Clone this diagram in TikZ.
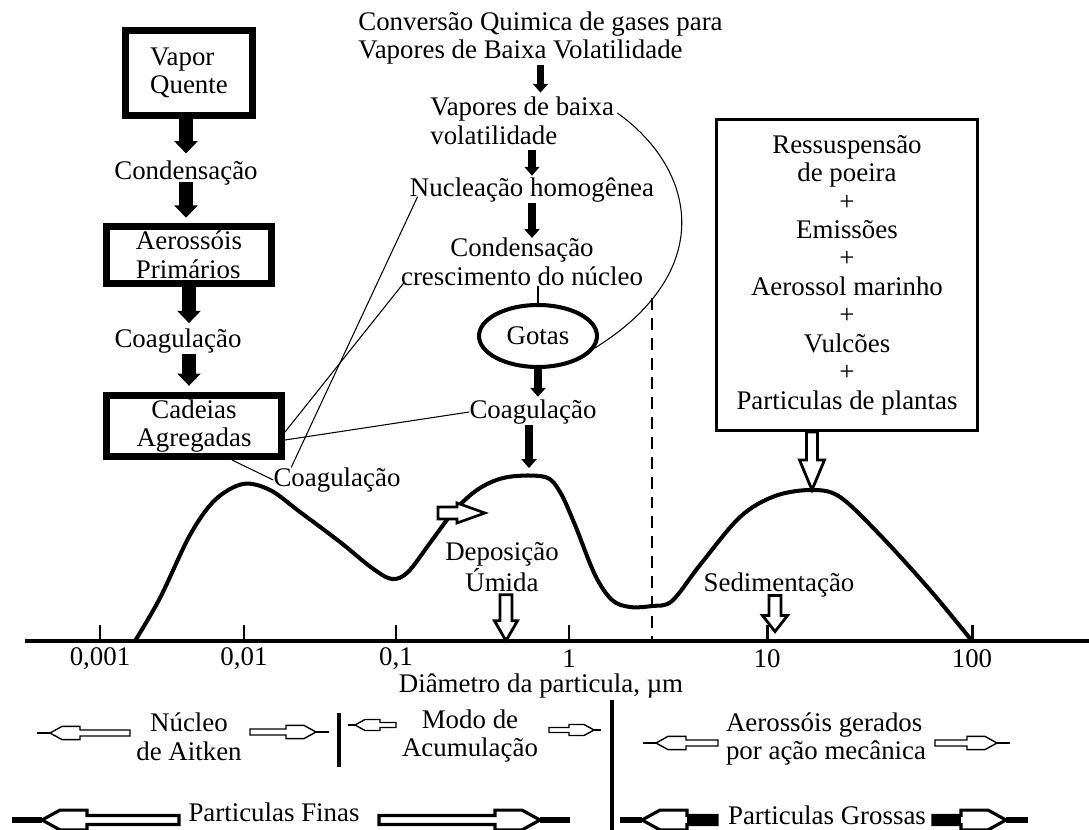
\documentclass[tikz,border=0pt]{standalone}
\usepackage{fontspec}
\setmainfont{Liberation Serif}
\usetikzlibrary{arrows.meta,calc,shapes.geometric}

% horizontal block arrow: line width, tail x, tip x, y, shaft half height, stub length, shaft fill
\newcommand{\flecha}[7]{%
  \pgfmathsetmacro{\flD}{ifthenelse(#3>#2,1,-1)}%
  \pgfmathsetmacro{\flA}{#3-\flD*#6}%
  \pgfmathsetmacro{\flB}{\flA-\flD*4*#5}%
  \pgfmathsetmacro{\flC}{\flA-\flD*10*#5}%
  \draw[line width=1.8*#1] (\flA,#4) -- (#3,#4);
  \fill[white] (#2,#4-#5) -- (\flC,#4-#5) -- (\flC,#4-2.2*#5) -- (\flB,#4-2.2*#5) -- (\flA,#4)
    -- (\flB,#4+2.2*#5) -- (\flC,#4+2.2*#5) -- (\flC,#4+#5) -- (#2,#4+#5) -- cycle;
  \fill[#7] (#2,#4-#5) rectangle (\flC,#4+#5);
  \draw[line width=#1, line join=miter] (#2,#4-#5) -- (\flC,#4-#5) -- (\flC,#4-2.2*#5) -- (\flB,#4-2.2*#5) -- (\flA,#4)
    -- (\flB,#4+2.2*#5) -- (\flC,#4+2.2*#5) -- (\flC,#4+#5) -- (#2,#4+#5) -- cycle;
}

\begin{document}
\begin{tikzpicture}[x=0.02cm, y=-0.02cm,
    every node/.style={font=\fontsize{15.3}{16.2}\selectfont, inner sep=0pt},
    thickbox/.style={draw, line width=4pt},
    fatarr/.style={line width=7.5pt, -{Triangle[width=13pt,length=7pt]}},
    midarr/.style={line width=4.5pt, -{Triangle[width=8.5pt,length=5pt]}},
    leader/.style={line width=0.6pt},
    curve/.style={line width=2.3pt, line join=round},
    hollow/.style={draw, line width=1.6pt, fill=white, line join=miter},
    pics/dnarrow/.style n args={4}{code={
      \path[hollow] (-#2,0) -- (-#2,#1-#4) -- (-#3,#1-#4) -- (0,#1) -- (#3,#1-#4) -- (#2,#1-#4) -- (#2,0) -- cycle;
    }}
]
\useasboundingbox (0,0) rectangle (1089,830);

% left column
\node[thickbox, minimum width=2.54cm, minimum height=1.7cm, align=left] (vapor) at (189,73) {Vapor\\Quente};
\node (cond1) at (186,173) {Condensação};
\node[thickbox, minimum width=3.3cm, minimum height=1.14cm, align=left] (aero) at (189,255) {Aerossóis\\Primários};
\node (coag1) at (178,341) {Coagulação};
\node[thickbox, minimum width=3.5cm, minimum height=1.22cm, align=center] (cadeias) at (194,426) {Cadeias\\Agregadas};

\draw[fatarr, shorten >=4pt] (vapor.south -| cond1) -- (cond1.north);
\draw[fatarr, shorten <=-2pt, shorten >=3pt] (cond1.south) -- (cond1.south |- aero.north);
\draw[fatarr, shorten >=3pt] (aero.south) -- (aero.south |- coag1.north);
\draw[fatarr, shorten >=3.5pt] (coag1.south -| aero) -- (cadeias.north -| aero);

% middle column
\node[anchor=west, align=left] (conv) at (358,38) {Conversão Quimica de gases para\\Vapores de Baixa Volatilidade};
\node[anchor=west, align=left] (vap) at (430,121) {Vapores de baixa\\volatilidade};
\node (nuc) at (532,190) {Nucleação homogênea};
\node[align=center] (cond2) at (522,262) {Condensação\\crescimento do núcleo};
\node[ellipse, draw, line width=2.3pt, minimum width=2.36cm, minimum height=1.24cm] (gotas) at (538,336) {Gotas};
\node (coag2) at (533,412) {Coagulação};
\node (coag3) at (337,480) {Coagulação};
\coordinate (peakB) at (529,468);

\draw[midarr, shorten >=2.5pt] (conv.south) -- (conv.south |- vap.north);
\draw[midarr, shorten <=3pt, shorten >=1pt] (vap.south -| nuc) -- (nuc.north);
\draw[midarr] (nuc.south) -- (nuc.south |- cond2.north);
\draw[line width=1.7pt] (cond2.south -| gotas) -- (gotas.north);
\draw[midarr, shorten >=1.5pt] (gotas.south) -- (gotas.south |- coag2.north);
\draw[midarr] (coag2.south -| peakB) -- (peakB);

% leader lines
\draw[leader] ($(nuc.south west)+(8,-6)$) -- ($(coag3.north west)+(18,0)$);
\draw[leader] ($(cond2.south west)+(3,-3)$) -- ($(cadeias.east)+(0,6)$);
\draw[leader] ($(cadeias.east)+(0,14)$) -- (coag2.west);
\draw[leader] ($(cadeias.south)+(38,0)$) -- (coag3.west);
\draw[leader] ($(vap.north east)+(3,16)$) .. controls (697,170) and (717,272) .. (gotas.-12);

% right box
\node[draw, line width=1.7pt, minimum width=5.24cm, minimum height=6.22cm, align=center] (fontes) at (847,275)
  {Ressuspensão\\de poeira\\+\\Emissões\\+\\Aerossol marinho\\+\\Vulcões\\+\\Particulas de plantas};
\coordinate (peakC) at (812,490);
\pic at (fontes.south -| peakC) {dnarrow={58}{5.5}{12.5}{30}};

% distribution curve
\draw[curve] plot[smooth, tension=0.55] coordinates {(135,641) (160,598) (190,535) (215,500) (243,484) (270,490)
  (300,512) (340,542) (372,568) (392,579) (408,572) (430,543) (455,510) (480,488) (508,477) (545,477)
  (560,492) (575,525) (595,575) (612,600) (630,607) (652,606) (672,601) (700,565) (740,517) (775,496)
  (812,490) (840,497) (880,535) (930,590) (972,641)};
\draw[dashed, line width=0.9pt, dash pattern=on 6.8pt off 4.5pt] (652,298) -- (652,640);
\draw[line width=1.5pt, fill=white, line join=miter] (438,507) -- (457,507) -- (457,503) -- (485,513)
  -- (457,523) -- (457,519) -- (438,519) -- cycle;

\node[align=center] (dep) at (502,567) {Deposição\\Úmida};
\pic at ($(dep.south)+(4,3)$) {dnarrow={46}{6}{11.5}{20}};
\node (sed) at (779,585) {Sedimentação};
\pic at ($(sed.south)+(-4,-2)$) {dnarrow={36}{6}{12.5}{16}};

% axis
\draw[line width=2.6pt] (25,641) -- (1089,641);
\foreach \x/\lab in {100/{0,001},244/{0,01},396/{0,1},569/1,767/10,972/100}{
  \draw[line width=1.7pt] (\x,641) -- (\x,625);
  \node (lab\x) at (\x,659) {\lab};
}
\node (diam) at (541,686) {Diâmetro da particula, µm};

% modes
\node[align=center] (nucleo) at (189,737) {Núcleo\\de Aitken};
\node[align=center] (modo) at (470,736) {Modo de\\Acumulação};
\node[align=left] (mecan) at (826,739) {Aerossóis gerados\\por ação mecânica};
\node (finas) at (274,812) {Particulas Finas};
\node (grossas) at (827,815) {Particulas Grossas};

\draw[line width=2.3pt] (339,713) -- (339,767);
\draw[line width=1.8pt] (612,700) -- (612,830);

\flecha{0.8pt}{130}{37}{733}{3}{13}{white}
\flecha{0.8pt}{250}{329}{732}{3}{13}{white}
\flecha{0.8pt}{396}{348}{725}{2.5}{7}{white}
\flecha{0.8pt}{549}{601}{730}{2.5}{7}{white}
\flecha{0.8pt}{718}{643}{743}{3}{13}{white}
\flecha{0.8pt}{935}{1010}{743}{3}{13}{white}
\flecha{1.8pt}{179}{12}{820}{4.5}{30}{white}
\flecha{1.8pt}{379}{570}{820}{4.5}{30}{white}
\flecha{1.8pt}{717}{620}{820}{4.5}{22}{black}
\flecha{1.8pt}{933}{1028}{820}{4.5}{22}{black}
\end{tikzpicture}
\end{document}
